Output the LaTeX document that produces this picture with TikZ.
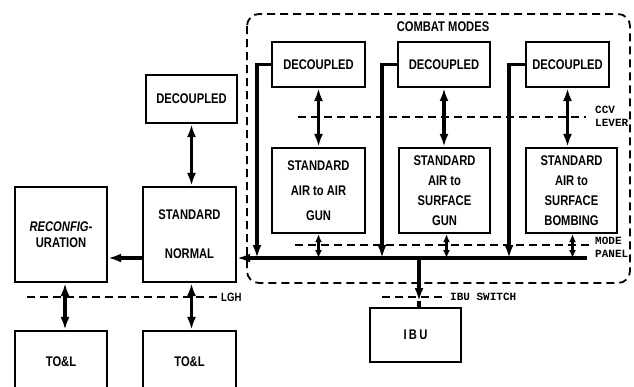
\documentclass[tikz,border=0pt]{standalone}
\usepackage{fontspec}
\usetikzlibrary{arrows.meta,calc}
\newfontfamily\boxfont{Liberation Sans}[FakeStretch=0.8]
\newfontfamily\lblfont{Liberation Mono}
\tikzset{
  blk/.style={draw, line width=2.2pt, rectangle, inner sep=0pt, align=center,
    font=\boxfont\bfseries\fontsize{14}{17}\selectfont},
  conn/.style={line width=3.2pt},
  arr/.style={conn, -{Latex[length=13pt,width=9pt]}},
  darr/.style={conn, {Latex[length=13pt,width=9pt]}-{Latex[length=13pt,width=9pt]}},
  sdarr/.style={line width=2.4pt, {Latex[length=8pt,width=7pt]}-{Latex[length=8pt,width=7pt]}},
  dline/.style={line width=1.8pt, dash pattern=on 8pt off 5pt},
  small/.style={font=\lblfont\bfseries\fontsize{11}{12}\selectfont, inner sep=0pt},
  sans/.style={font=\boxfont\bfseries\fontsize{14}{17}\selectfont, inner sep=0pt}
}
\begin{document}
\begin{tikzpicture}[x=1pt,y=-1pt]
\useasboundingbox (0,0) rectangle (634,386);
\clip (0,0) rectangle (634,386);
% combat modes frame
\draw[line width=1.8pt, dash pattern=on 8pt off 5pt, rounded corners=12pt] (247,14) rectangle (630,283);
\node[sans] (cm) at (443,27) {COMBAT MODES};
% left column
\node[blk, minimum width=91, minimum height=48] (dec0) at (191.5,99) {DECOUPLED};
\node[blk, minimum width=93, minimum height=95, font=\boxfont\bfseries\fontsize{14}{35}\selectfont] (stdN) at (189.5,234.5) {\raisebox{4pt}{STANDARD}\\NORMAL};
\node[blk, minimum width=92, minimum height=95, font=\boxfont\bfseries\fontsize{14}{16}\selectfont] (reconf) at (61,234.5) {\textit{RECONFIG-}\\URATION};
\node[blk, minimum width=92, minimum height=69] (tol1) at (61,365.5) {\raisebox{8pt}{TO\&L}};
\node[blk, minimum width=93, minimum height=69] (tol2) at (189.5,365.5) {\raisebox{8pt}{TO\&L}};
% combat boxes
\node[blk, minimum width=93, minimum height=45] (decA) at (318.5,64.5) {DECOUPLED};
\node[blk, minimum width=92, minimum height=45] (decB) at (444,64.5) {DECOUPLED};
\node[blk, minimum width=83, minimum height=45] (decC) at (567.5,64.5) {DECOUPLED};
\node[blk, minimum width=93, minimum height=85, font=\boxfont\bfseries\fontsize{14}{25}\selectfont] (stdA) at (318.5,190.5) {STANDARD\\AIR to AIR\\GUN};
\node[blk, minimum width=91, minimum height=85, font=\boxfont\bfseries\fontsize{14}{20}\selectfont] (stdB) at (444.5,190.5) {STANDARD\\AIR to\\SURFACE\\GUN};
\node[blk, minimum width=91, minimum height=85, font=\boxfont\bfseries\fontsize{14}{20}\selectfont] (stdC) at (571.5,190.5) {STANDARD\\AIR to\\SURFACE\\BOMBING};
\node[blk, minimum width=91, minimum height=54] (ibu) at (415.5,335) {I\,B\,U};
% coordinates
\coordinate (busR) at (587,258);
\coordinate (jA) at (257,258);
\coordinate (jB) at (382,258);
\coordinate (jC) at (509,258);
\coordinate (busI) at (419,258);
\coordinate (ibuSw) at (419,301);
% dashed lever lines
\draw[dline] (27,297) -- (217,297);
\node[sans, anchor=west, font=\boxfont\bfseries\fontsize{12}{14}\selectfont] (lgh) at (221,297) {LGH};
\draw[dline] (298,117) -- (586,117);
\node[small, anchor=west] (ccv) at (595,110) {CCV};
\node[small, anchor=west] (lever) at (595,123) {LEVER};
\draw[dline] (295,245) -- (590,245);
\node[small, anchor=west] (mode) at (595,241) {MODE};
\node[small, anchor=west] (panel) at (595,254) {PANEL};
\draw[dline] (382,297) -- (447,297);
\node[small, anchor=west] (ibusw) at (450,297) {IBU SWITCH};
% connectors left
\draw[darr] (dec0.south) -- (dec0.south |- stdN.north);
\draw[arr] (stdN.west |- busR) -- (reconf.east |- busR);
\draw[darr] ([xshift=4pt]reconf.south) -- ([xshift=4pt]tol1.north);
\draw[darr] ([xshift=2pt]stdN.south) -- ([xshift=2pt]tol2.north);
% bus
\draw[arr] (busR) -- (stdN.east |- busR);
\draw[arr] (decA.west) -| (jA);
\draw[arr] (decB.west) -| (jB);
\draw[arr] (decC.west) -| (jC);
\draw[darr] (decA.south) -- (stdA.north);
\draw[darr] (decB.south) -- (decB.south |- stdB.north);
\draw[darr] (decC.south) -- (decC.south |- stdC.north);
\draw[sdarr] (stdA.south) -- (stdA.south |- busR);
\draw[sdarr] ([xshift=2pt]stdB.south) -- ([xshift=2pt]stdB.south |- busR);
\draw[sdarr] ([xshift=1pt]stdC.south) -- ([xshift=1pt]stdC.south |- busR);
% IBU
\draw[arr] (busI) -- (ibuSw);
\draw[conn] (ibuSw) -- (busI |- ibu.north);
\end{tikzpicture}
\end{document}
